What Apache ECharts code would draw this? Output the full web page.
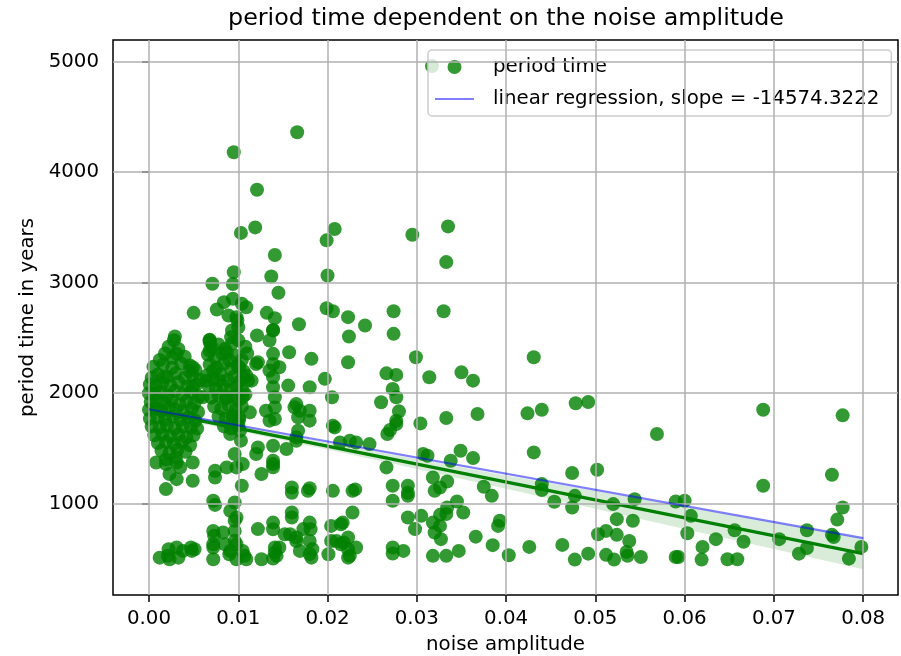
<!DOCTYPE html>
<html>
<head>
<meta charset="utf-8">
<script src="https://cdn.jsdelivr.net/npm/echarts@6/dist/echarts.min.js"></script>
<style>
html, body { margin: 0; padding: 0; background: #fff; }
#chart { width: 901px; height: 656px; }
</style>
</head>
<body>
<div id="chart"></div>
<script>
// Axis ticks
const xTicks = [0, 0.01, 0.02, 0.03, 0.04, 0.05, 0.06, 0.07, 0.08];
const yTicks = [1000, 2000, 3000, 4000, 5000];

// Measured runs: [noise amplitude, period time in years]
const samples = [
  // high outliers
  [0.0095,4180],[0.0166,4360],[0.0317,4960],[0.0121,3840],[0.0119,3500],[0.0103,3450],[0.0141,3250],
  [0.0095,3095],[0.0071,2990],[0.0094,2987],[0.0137,3056],[0.0145,2909],[0.0199,3383],[0.0208,3485],
  [0.0200,3065],[0.0295,3434],[0.0335,3509],[0.0333,3186],[0.0330,2742],[0.0050,2727],
  // 2400 - 2900
  [0.0076,2757],[0.0084,2824],[0.0089,2703],[0.0094,2854],[0.0104,2809],[0.0109,2778],[0.0098,2688],
  [0.0093,2567],[0.0100,2597],[0.0132,2727],[0.0141,2679],[0.0139,2567],[0.0168,2624],[0.0199,2769],
  [0.0206,2742],[0.0223,2688],[0.0242,2612],[0.0224,2513],[0.0274,2742],[0.0274,2537],[0.0029,2513],
  [0.0068,2483],[0.0121,2522],[0.0092,2506],[0.0099,2658],[0.0139,2573],[0.0068,2461],
  // low-noise cluster
  [0.0028,2480],[0.0022,2420],[0.0033,2400],
  [0.0018,2360],[0.0040,2330],[0.0012,2300],[0.0026,2320],
  [0.0005,2240],[0.0016,2260],[0.0026,2230],[0.0036,2270],[0.0052,2210],[0.0045,2200],
  [0.0003,2140],[0.0010,2170],[0.0020,2150],[0.0030,2180],[0.0040,2140],[0.0049,2160],[0.0057,2120],
  [0.0001,2080],[0.0008,2060],[0.0015,2090],[0.0024,2070],[0.0033,2100],[0.0043,2060],[0.0053,2080],
  [0.0000,2000],[0.0006,1990],[0.0013,2010],[0.0021,1980],[0.0029,2020],[0.0038,1990],[0.0047,2010],[0.0056,1970],
  [0.0002,1920],[0.0009,1930],[0.0017,1910],[0.0025,1940],[0.0034,1900],[0.0042,1930],[0.0051,1910],
  [0.0000,1850],[0.0007,1860],[0.0014,1840],[0.0022,1870],[0.0030,1850],[0.0039,1830],[0.0048,1860],[0.0055,1830],
  [0.0001,1770],[0.0010,1780],[0.0018,1760],[0.0027,1790],[0.0035,1760],[0.0044,1780],[0.0052,1750],
  [0.0003,1700],[0.0012,1690],[0.0020,1710],[0.0029,1680],[0.0038,1700],[0.0047,1690],[0.0054,1680],
  [0.0006,1620],[0.0015,1630],[0.0024,1610],[0.0033,1630],[0.0042,1600],[0.0050,1620],
  [0.0010,1550],[0.0019,1560],[0.0028,1540],[0.0037,1560],[0.0046,1530],
  [0.0014,1480],[0.0023,1460],[0.0032,1490],[0.0041,1470],
  [0.0019,1400],[0.0030,1420],
  // cluster around 0.01
  [0.0068,2480],[0.0070,2420],[0.0078,2440],[0.0085,2400],[0.0093,2450],[0.0100,2480],[0.0108,2420],
  [0.0066,2350],[0.0074,2320],[0.0082,2360],[0.0090,2300],[0.0097,2340],[0.0104,2300],[0.0110,2360],
  [0.0068,2260],[0.0076,2230],[0.0084,2270],[0.0092,2220],[0.0099,2250],[0.0106,2200],
  [0.0065,2160],[0.0072,2130],[0.0080,2170],[0.0088,2120],[0.0095,2150],[0.0102,2110],[0.0109,2160],
  [0.0067,2060],[0.0075,2040],[0.0083,2070],[0.0091,2030],[0.0098,2060],[0.0105,2020],
  [0.0070,1960],[0.0078,1980],[0.0086,1950],[0.0094,1970],[0.0101,1940],[0.0108,1990],
  [0.0073,1880],[0.0081,1860],[0.0089,1890],[0.0097,1850],[0.0104,1880],
  [0.0078,1790],[0.0086,1770],[0.0094,1800],[0.0101,1760],
  [0.0084,1700],[0.0092,1680],[0.0100,1710],
  // scattered 1200 - 2400
  [0.0031,2356],[0.0046,2250],[0.0068,2386],[0.0072,2205],[0.0087,2371],[0.0101,2235],[0.0111,2114],
  [0.0122,2280],[0.0135,2205],[0.0135,2477],[0.0016,2144],[0.0049,2235],[0.0049,2054],[0.0064,2114],
  [0.0060,1963],[0.0079,2114],[0.0087,1963],[0.0105,1963],[0.0094,1782],[0.0101,1782],[0.0131,1842],
  [0.0135,1752],[0.0120,2265],[0.0139,2356],[0.0139,2265],[0.0146,2235],[0.0157,2371],[0.0139,2144],
  [0.0139,2054],[0.0141,1963],[0.0141,1872],[0.0141,1767],[0.0156,2069],[0.0182,2311],[0.0180,2054],
  [0.0197,2130],[0.0205,1963],[0.0165,1903],[0.0169,1842],[0.0180,1842],[0.0180,1752],[0.0167,1661],
  [0.0165,1570],[0.0154,1495],[0.0139,1525],[0.0122,1510],[0.0120,1450],[0.0139,1359],[0.0139,1330],
  [0.0126,1269],[0.0104,1163],[0.0098,1329],[0.0087,1329],[0.0096,1450],[0.0105,1359],[0.0074,1299],
  [0.0074,1238],[0.0091,1631],[0.0102,1661],[0.0115,2114],[0.0113,1827],[0.0106,2144],[0.0103,1571],
  [0.0167,1782],[0.0163,1873],[0.0165,1601],[0.0139,1389],
  [0.0208,1691],[0.0214,1555],[0.0225,1571],[0.0232,1555],[0.0247,1540],[0.0206,1706],
  [0.0223,2280],[0.0266,2180],[0.0277,2166],[0.0273,2039],[0.0277,1963],[0.0260,1918],[0.0280,1836],
  [0.0277,1752],[0.0270,1667],[0.0267,1631],[0.0299,2325],[0.0314,2144],[0.0304,1727],[0.0333,1776],
  [0.0277,1722],[0.0307,1450],
  [0.0008,1374],[0.0019,1359],[0.0031,1374],[0.0035,1330],[0.0023,1269],[0.0031,1223],[0.0019,1133],
  [0.0049,1374],[0.0049,1208],
  // 0.025 - 0.034, lower half
  [0.0266,1329],[0.0273,1163],[0.0290,1163],[0.0273,1027],[0.0290,1072],[0.0290,1100],[0.0312,1435],
  [0.0318,1238],[0.0320,1117],[0.0305,891],[0.0290,876],[0.0298,771],[0.0318,830],[0.0320,740],
  [0.0327,680],[0.0333,907],[0.0273,604],[0.0285,574],[0.0273,551],[0.0318,529],[0.0333,529],
  // 500 - 1200 below the clusters
  [0.0012,513],[0.0022,589],[0.0023,499],[0.0031,604],[0.0033,513],[0.0038,574],[0.0048,574],
  [0.0051,589],[0.0021,530],[0.0047,604],
  [0.0072,1027],[0.0074,990],[0.0091,936],[0.0096,1012],[0.0096,846],[0.0072,755],[0.0072,634],
  [0.0072,499],[0.0083,740],[0.0085,634],[0.0091,574],[0.0096,755],[0.0098,634],[0.0098,499],
  [0.0105,574],[0.0109,499],[0.0122,771],[0.0126,499],[0.0139,830],[0.0139,770],[0.0141,559],
  [0.0139,505],[0.0146,604],[0.0158,725],[0.0160,1148],[0.0160,1100],[0.0160,921],[0.0160,876],
  [0.0165,664],[0.0169,574],[0.0173,771],[0.0178,1117],[0.0180,1140],[0.0180,830],[0.0181,770],
  [0.0180,664],[0.0182,513],[0.0183,590],[0.0201,544],[0.0204,800],[0.0206,1117],[0.0210,664],
  [0.0215,815],[0.0218,650],[0.0223,589],[0.0223,513],[0.0228,1117],[0.0231,1130],[0.0228,921],
  [0.0232,604],[0.0098,876],[0.0073,710],[0.0096,665],[0.0072,604],[0.0090,544],[0.0107,529],
  [0.0152,725],[0.0165,695],[0.0180,546],[0.0141,604],[0.0143,529],[0.0217,830],[0.0204,664],
  [0.0215,634],[0.0223,695],[0.0225,529],
  // 0.033 - 0.08
  [0.0350,2189],[0.0363,2114],[0.0431,2325],[0.0368,1812],[0.0424,1818],[0.0440,1851],[0.0478,1909],
  [0.0492,1921],[0.0569,1631],[0.0688,1851],[0.0777,1800],[0.0349,1480],[0.0338,1389],[0.0363,1414],
  [0.0431,1465],[0.0474,1278],[0.0502,1308],[0.0688,1163],[0.0765,1262],[0.0334,1202],[0.0326,1148],
  [0.0375,1154],[0.0384,1072],[0.0440,1178],[0.0440,1125],[0.0454,1018],[0.0474,966],[0.0477,1072],
  [0.0520,997],[0.0544,1042],[0.0590,1021],[0.0600,1027],[0.0607,891],[0.0777,966],[0.0771,857],
  [0.0345,1021],[0.0334,966],[0.0352,921],[0.0326,900],[0.0326,800],[0.0393,846],[0.0391,800],
  [0.0524,861],[0.0542,846],[0.0366,703],[0.0385,626],[0.0347,574],[0.0403,535],[0.0426,610],
  [0.0463,628],[0.0477,495],[0.0492,549],[0.0503,725],[0.0512,755],[0.0524,719],[0.0538,664],
  [0.0512,538],[0.0521,495],[0.0535,565],[0.0536,530],[0.0551,519],[0.0590,519],[0.0593,519],
  [0.0603,734],[0.0620,610],[0.0619,495],[0.0635,680],[0.0648,499],[0.0659,499],[0.0656,761],
  [0.0666,656],[0.0706,680],[0.0728,549],[0.0737,761],[0.0737,600],[0.0765,719],[0.0767,700],
  [0.0784,504],[0.0798,610]
];

// Least-squares line quoted in the legend
const slope = -14574.3222;
const intercept = 1855;
const slopeSpan = [0, 0.08];

// Seaborn-style fit and its 95% confidence band
const fitX = [0, 0.08];
const fitY = [1845, 549];
const bandX = [0, 0.01, 0.02, 0.03, 0.04, 0.05, 0.06, 0.07, 0.08];
const bandLow = [1815, 1658, 1491, 1314, 1137, 955, 773, 591, 409];
const bandHigh = [1875, 1708, 1551, 1404, 1257, 1115, 973, 831, 689];

const FONT = 'DejaVu Sans';
const regName = 'linear regression, slope = ' + slope.toFixed(4);
const gridLines = xTicks.map(v => ({ xAxis: v })).concat(yTicks.map(v => ({ yAxis: v })));

const chart = echarts.init(document.getElementById('chart'), null, { renderer: 'canvas' });

chart.setOption({
  animation: false,
  backgroundColor: '#ffffff',
  textStyle: { fontFamily: FONT },
  graphic: [{
    type: 'text',
    x: 506,
    y: 7,
    style: {
      text: 'period time dependent on the noise amplitude',
      fontFamily: FONT,
      fontSize: 23.8,
      fill: '#000',
      align: 'center',
      verticalAlign: 'top',
      textAlign: 'center',
      textVerticalAlign: 'top'
    }
  }],
  grid: {
    left: 113, right: 3, top: 40, bottom: 61,
    containLabel: false,
    outerBoundsMode: 'none',
    show: true, borderColor: '#000', borderWidth: 1.5, backgroundColor: 'transparent'
  },
  xAxis: {
    type: 'value',
    min: -0.00403,
    max: 0.0839,
    name: 'noise amplitude',
    nameLocation: 'middle',
    nameGap: 40,
    nameTextStyle: { fontSize: 19.8, color: '#000', fontFamily: FONT },
    axisLine: { show: false },
    axisTick: { show: true, length: 7, lineStyle: { color: '#000', width: 1.5 }, customValues: xTicks },
    axisLabel: { customValues: xTicks, formatter: v => v.toFixed(2), fontSize: 19.8, color: '#000', margin: 14, fontFamily: FONT },
    splitLine: { show: false }
  },
  yAxis: {
    type: 'value',
    min: 175,
    max: 5195,
    name: 'period time in years',
    nameLocation: 'middle',
    nameGap: 66,
    nameTextStyle: { fontSize: 19.8, color: '#000', fontFamily: FONT },
    axisLine: { show: false },
    axisTick: { show: true, length: 7, lineStyle: { color: '#000', width: 1.5 }, customValues: yTicks },
    axisLabel: { customValues: yTicks, formatter: v => String(v), fontSize: 19.8, color: '#000', margin: 14, fontFamily: FONT },
    splitLine: { show: false }
  },
  legend: {
    data: [
      { name: 'period time', icon: 'circle' },
      { name: regName, itemStyle: { opacity: 0 } }
    ],
    orient: 'vertical',
    left: 428,
    top: 50,
    itemWidth: 39,
    itemHeight: 14,
    itemGap: 12,
    padding: [7, 12, 7, 6],
    backgroundColor: 'rgba(255,255,255,0.8)',
    borderColor: '#cccccc',
    borderWidth: 1.5,
    borderRadius: 4,
    selectedMode: false,
    textStyle: { fontSize: 19.8, color: '#000', fontFamily: FONT, padding: [0, 0, 0, 14] }
  },
  series: [
    {
      type: 'line',
      name: 'gridlines',
      data: [],
      silent: true,
      z: 1,
      markLine: {
        silent: true,
        symbol: ['none', 'none'],
        label: { show: false },
        lineStyle: { color: '#b0b0b0', width: 1.5, type: 'solid' },
        emphasis: { disabled: true },
        data: gridLines
      }
    },
    {
      type: 'scatter',
      name: 'period time',
      data: samples,
      symbolSize: 14,
      itemStyle: { color: '#008000', opacity: 0.8 },
      z: 2
    },
    {
      // confidence band drawn as one polygon through the axis scales
      type: 'custom',
      name: 'ci',
      silent: true,
      z: 3,
      data: [[fitX[0], fitY[0]]],
      renderItem: (params, api) => {
        const upper = bandX.map((x, i) => api.coord([x, bandHigh[i]]));
        const lower = bandX.map((x, i) => api.coord([x, bandLow[i]])).reverse();
        return {
          type: 'polygon',
          shape: { points: upper.concat(lower) },
          style: { fill: 'rgba(0,128,0,0.15)' }
        };
      }
    },
    {
      type: 'line',
      name: 'fit',
      data: fitX.map((x, i) => [x, fitY[i]]),
      symbol: 'none',
      silent: true,
      lineStyle: { color: '#008000', width: 3.5 },
      itemStyle: { color: '#008000' },
      z: 4
    },
    {
      type: 'line',
      name: regName,
      data: slopeSpan.map(x => [x, intercept + slope * x]),
      symbol: 'none',
      silent: true,
      lineStyle: { color: 'rgba(0,0,255,0.5)', width: 2.2 },
      itemStyle: { color: 'rgba(0,0,255,0.5)' },
      z: 5
    }
  ]
});
</script>
</body>
</html>
